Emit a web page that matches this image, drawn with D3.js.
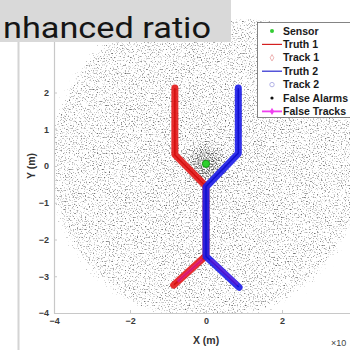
<!DOCTYPE html>
<html>
<head>
<meta charset="utf-8">
<script src="https://cdn.jsdelivr.net/npm/d3@7"></script>
<style>
  body { margin: 0; background: #fff; }
  svg { display: block; }
</style>
</head>
<body>
<svg class="chart"></svg>
<script>
// tick values
const xTicks = [-4, -2, 0, 2];
const yTicks = [-4, -3, -2, -1, 0, 1, 2];

// truth paths (x, y in m, x10^4)
const truth1 = [[-0.83, -3.22], [0, -2.46], [0, -0.56], [-0.82, 0.30], [-0.82, 2.10]];
const truth2 = [[0.85, -3.28], [0, -2.46], [0, -0.56], [0.85, 0.35], [0.85, 2.10]];
// track estimates follow the truths
const track1 = [[-0.85, -3.24], [0, -2.44], [0, -0.55], [-0.82, 0.31], [-0.82, 2.12]];
const track2 = [[0.87, -3.30], [0, -2.46], [0, -0.57], [0.85, 0.34], [0.85, 2.12]];
// short false tracks near the lower branches
const falseTrackA = [[-0.12, -2.56], [-0.72, -3.12]];
const falseTrackB = [[0.15, -2.58], [0.8, -3.2]];

const sensor = [0, 0.06];
const alarmRadius = 4.5;   // extent of false alarm cloud

const legendLabels = ['Sensor', 'Truth 1', 'Track 1', 'Truth 2', 'Track 2', 'False Alarms', 'False Tracks'];

const W = 350, H = 350;
const svg = d3.select('.chart').attr('width', W).attr('height', H);
const defs = svg.append('defs');

const x = d3.scaleLinear().domain([-4, 4]).range([54, 358]);
const y = d3.scaleLinear().domain([-4, 4]).range([313, 19]);

// figure frame line on the left
svg.append('line')
    .attr('x1', 18.5).attr('x2', 18.5).attr('y1', 0).attr('y2', H)
    .style('stroke', '#d4d4d4').style('stroke-width', 2);

defs.append('clipPath').attr('id', 'plotclip')
    .append('rect')
    .attr('x', x(-4)).attr('y', y(4))
    .attr('width', x(4) - x(-4)).attr('height', y(-4) - y(4));

// density gradient for false alarms
const grad = defs.append('radialGradient').attr('id', 'dens');
grad.append('stop').attr('offset', '0%').attr('stop-color', '#000').attr('stop-opacity', 1);
grad.append('stop').attr('offset', '6%').attr('stop-color', '#000').attr('stop-opacity', 0.95);
grad.append('stop').attr('offset', '14%').attr('stop-color', '#000').attr('stop-opacity', 0.72);
grad.append('stop').attr('offset', '89%').attr('stop-color', '#000').attr('stop-opacity', 0.68);
grad.append('stop').attr('offset', '100%').attr('stop-color', '#000').attr('stop-opacity', 0.0);

// speckle filter: noise thresholded by density
const f = defs.append('filter').attr('id', 'speck')
    .attr('filterUnits', 'userSpaceOnUse')
    .attr('x', 0).attr('y', 0).attr('width', W).attr('height', H)
    .attr('color-interpolation-filters', 'sRGB');
f.append('feTurbulence').attr('type', 'fractalNoise')
    .attr('baseFrequency', 0.75).attr('numOctaves', 1).attr('seed', 7).attr('result', 'noise');
f.append('feColorMatrix').attr('in', 'noise').attr('type', 'matrix')
    .attr('values', '0 0 0 0 0  0 0 0 0 0  0 0 0 0 0  -1 0 0 0 1').attr('result', 'na');
f.append('feComposite').attr('in', 'na').attr('in2', 'SourceGraphic')
    .attr('operator', 'arithmetic')
    .attr('k1', 0).attr('k2', 4).attr('k3', 2.13).attr('k4', -3.65).attr('result', 'dots');
f.append('feGaussianBlur').attr('in', 'dots').attr('stdDeviation', 0.5).attr('result', 'soft');
f.append('feComponentTransfer').attr('in', 'soft')
    .append('feFuncA').attr('type', 'linear').attr('slope', 0.6);

const plot = svg.append('g').attr('clip-path', 'url(#plotclip)');

plot.append('circle')
    .attr('cx', x(sensor[0])).attr('cy', y(sensor[1]))
    .attr('r', x(alarmRadius) - x(0))
    .style('fill', 'url(#dens)')
    .attr('filter', 'url(#speck)');

const line = d3.line().x(d => x(d[0])).y(d => y(d[1]));

function drawTrack(data, color, width, opacity) {
    plot.append('path')
        .attr('d', line(data))
        .style('fill', 'none')
        .style('stroke', color)
        .style('stroke-width', width)
        .style('stroke-linejoin', 'round')
        .style('stroke-linecap', 'round')
        .style('opacity', opacity);
}

drawTrack(track1, '#e41c1c', 7, 0.92);
drawTrack(truth1, '#d40f0f', 1.5, 1);
drawTrack(track2, '#1f1fe8', 7, 0.92);
drawTrack(truth2, '#1010d0', 1.5, 1);
drawTrack(falseTrackA, '#e020e0', 3, 0.45);
drawTrack(falseTrackB, '#c020d0', 4, 0.3);

// sensor
plot.append('circle')
    .attr('cx', x(sensor[0])).attr('cy', y(sensor[1]))
    .attr('r', 3.6)
    .style('fill', '#2fd12f')
    .style('stroke', '#179a17')
    .style('stroke-width', 1);

// axes
const xAxis = d3.axisBottom(x).tickValues(xTicks).tickSizeInner(-3).tickSizeOuter(0).tickPadding(5);
const yAxis = d3.axisLeft(y).tickValues(yTicks).tickSizeInner(-3).tickSizeOuter(0).tickPadding(5);

const gx = svg.append('g').attr('transform', `translate(0,${y(-4)})`).call(xAxis);
const gy = svg.append('g').attr('transform', `translate(${x(-4)},0)`).call(yAxis);

[gx, gy].forEach(g => {
    g.select('.domain').style('stroke', '#c8c8c8').style('stroke-width', 1.2);
    g.selectAll('.tick line').style('stroke', '#c8c8c8');
    g.selectAll('.tick text')
        .style('font-family', '"Liberation Sans", Arial, sans-serif')
        .style('font-weight', 'bold')
        .style('font-size', '9px')
        .style('fill', '#3a3a3a');
});

svg.append('text')
    .attr('x', x(0)).attr('y', 344)
    .attr('text-anchor', 'middle')
    .style('font-family', '"Liberation Sans", Arial, sans-serif')
    .style('font-weight', 'bold').style('font-size', '10.5px').style('fill', '#333')
    .text('X (m)');

svg.append('text')
    .attr('transform', `translate(35,${y(0)}) rotate(-90)`)
    .attr('text-anchor', 'middle')
    .style('font-family', '"Liberation Sans", Arial, sans-serif')
    .style('font-weight', 'bold').style('font-size', '10.5px').style('fill', '#333')
    .text('Y (m)');

svg.append('text')
    .attr('x', 331).attr('y', 346)
    .style('font-family', '"Liberation Sans", Arial, sans-serif')
    .style('font-size', '9px').style('fill', '#444')
    .text('\u00d7' + '10');

// legend
const legend = svg.append('g').attr('transform', 'translate(257,22)');
legend.append('rect')
    .attr('x', 0.5).attr('y', 0.5).attr('width', 100).attr('height', 95)
    .style('fill', '#fff').style('stroke', '#666').style('stroke-width', 0.8);

const rowY = i => 9 + i * 13.4;
const item = legend.selectAll('.item').data(legendLabels).enter().append('g')
    .attr('transform', (d, i) => `translate(0,${rowY(i)})`);

item.append('text')
    .attr('x', 26).attr('dy', '0.35em')
    .style('font-family', '"Liberation Sans", Arial, sans-serif')
    .style('font-weight', 'bold').style('font-size', '10.5px').style('fill', '#1a1a1a')
    .text(d => d);

item.each(function(d) {
    const g = d3.select(this);
    if (d === 'Truth 1' || d === 'Truth 2' || d === 'False Tracks') {
        g.append('line').attr('x1', 5).attr('x2', 25).attr('y1', 0).attr('y2', 0)
            .style('stroke', d === 'Truth 1' ? '#d42020' : d === 'Truth 2' ? '#2a2ad0' : '#f040f0')
            .style('stroke-width', d === 'False Tracks' ? 1.8 : 1.2);
    }
    if (d === 'Sensor') {
        g.append('circle').attr('cx', 15).attr('r', 2).style('fill', '#3c3');
    } else if (d === 'Track 1') {
        g.append('path').attr('transform', 'translate(15,0)')
            .attr('d', d3.symbol(d3.symbolDiamond, 12)())
            .style('fill', 'none').style('stroke', '#e8a0a0').style('stroke-width', 0.8);
    } else if (d === 'Track 2') {
        g.append('circle').attr('cx', 15).attr('r', 2.2)
            .style('fill', 'none').style('stroke', '#a0a0e0').style('stroke-width', 0.8);
    } else if (d === 'False Alarms') {
        g.append('circle').attr('cx', 15).attr('r', 1.6).style('fill', '#111');
    } else if (d === 'False Tracks') {
        g.append('path').attr('transform', 'translate(15,0)')
            .attr('d', d3.symbol(d3.symbolDiamond, 16)())
            .style('fill', '#f040f0');
    }
});

// overlaid label box at top left
svg.append('rect')
    .attr('x', 0).attr('y', 0).attr('width', 231).attr('height', 42)
    .style('fill', '#d9d9d9');
svg.append('text')
    .attr('x', 3).attr('y', 38)
    .attr('textLength', 208).attr('lengthAdjust', 'spacingAndGlyphs')
    .style('font-family', 'Roboto, "Open Sans", sans-serif')
    .style('font-size', '30px').style('fill', '#151515')
    .text('nhanced ratio');
</script>
</body>
</html>
